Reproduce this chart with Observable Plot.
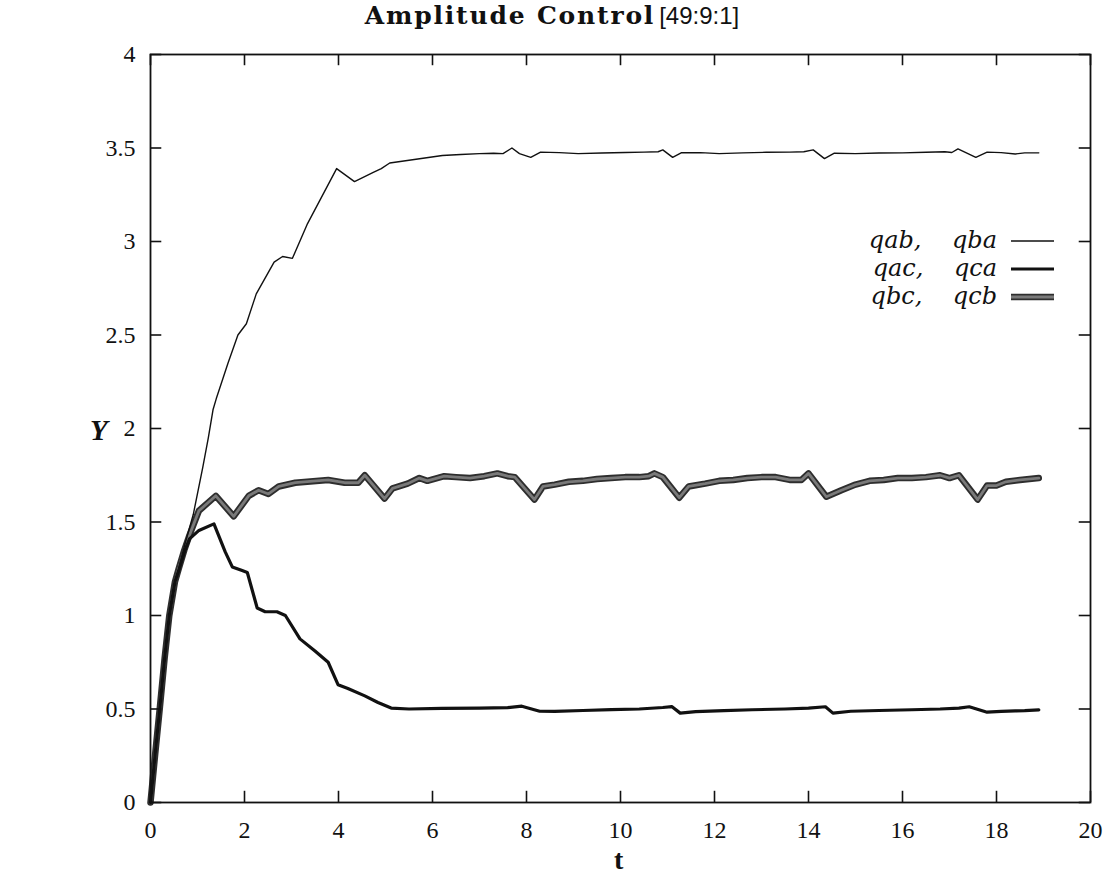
<!DOCTYPE html>
<html>
<head>
<meta charset="utf-8">
<script src="https://cdn.jsdelivr.net/npm/d3@7"></script>
<script src="https://cdn.jsdelivr.net/npm/@observablehq/plot@0.6"></script>
<style>
  body { margin: 0; background: #fff; }
  #wrap { position: relative; width: 1112px; height: 874px; overflow: hidden; background: #fff; }
  #chart { position: absolute; left: 0; top: 0; }
  #title { position: absolute; top: 1px; left: 552px; transform: translateX(-50%); white-space: nowrap; color: #111; }
  #title .b { font-family: "DejaVu Serif", serif; font-weight: bold; font-size: 25px; letter-spacing: 1.8px; }
  #title .s { font-family: "Liberation Sans", sans-serif; font-size: 24px; }
  .lab { position: absolute; color: #111; font-family: "Liberation Serif", serif; font-weight: bold; line-height: 1; }
  #ylab { left: 90px; top: 416px; font-size: 29px; font-style: italic; }
  #tlab { left: 614px; top: 846px; font-size: 28px; }
  #legend { position: absolute; left: 0; top: 0; }
</style>
</head>
<body>
<div id="wrap">
  <div id="chart"></div>
  <div id="title"><span class="b">Amplitude Control</span> <span class="s">[49:9:1]</span></div>
  <div class="lab" id="ylab">Y</div>
  <div class="lab" id="tlab">t</div>
  <svg id="legend" width="1112" height="874"></svg>
</div>
<script>
// ---- data ----
const xTicks = [0, 2, 4, 6, 8, 10, 12, 14, 16, 18, 20];
const yTicks = [0, 0.5, 1, 1.5, 2, 2.5, 3, 3.5, 4];
const seriesLabels = ["qab,    qba", "qac,    qca", "qbc,    qcb"];

// [t, value]
const qab = [
  [0,0],[0.1,0.26],[0.2,0.51],[0.3,0.77],[0.4,1.0],[0.52,1.18],[0.6,1.25],[0.72,1.37],
  [0.91,1.54],[1.11,1.79],[1.23,1.95],[1.33,2.1],[1.4,2.16],[1.65,2.35],[1.86,2.5],
  [2.04,2.56],[2.25,2.72],[2.63,2.89],[2.81,2.92],[3.02,2.91],[3.33,3.09],[3.96,3.39],
  [4.34,3.32],[4.74,3.37],[4.91,3.39],[5.09,3.42],[5.65,3.44],[6.21,3.46],
  [6.6,3.465],[7.0,3.47],[7.3,3.472],[7.5,3.47],[7.69,3.5],[7.85,3.47],[8.09,3.45],
  [8.3,3.478],[8.7,3.475],[9.1,3.47],[9.6,3.473],[10.1,3.476],[10.5,3.478],[10.8,3.48],
  [10.9,3.49],[11.11,3.45],[11.3,3.475],[11.7,3.475],[12.1,3.47],[12.6,3.474],[13.1,3.477],
  [13.6,3.478],[13.9,3.48],[14.1,3.49],[14.34,3.443],[14.55,3.472],[15.0,3.47],[15.5,3.473],
  [16.0,3.474],[16.5,3.477],[16.9,3.48],[17.05,3.476],[17.18,3.495],[17.56,3.45],[17.8,3.478],
  [18.1,3.475],[18.4,3.468],[18.6,3.474],[18.9,3.474]
];
const qac = [
  [0,0],[0.1,0.26],[0.2,0.51],[0.3,0.77],[0.4,1.0],[0.52,1.18],[0.6,1.24],[0.72,1.34],[0.83,1.41],
  [1.03,1.455],[1.35,1.49],[1.59,1.34],[1.74,1.26],[1.95,1.24],[2.06,1.23],[2.27,1.04],
  [2.44,1.02],[2.69,1.02],[2.87,1.0],[3.18,0.875],[3.5,0.81],[3.78,0.75],[3.99,0.63],
  [4.2,0.61],[4.56,0.57],[4.84,0.535],[5.12,0.505],[5.5,0.5],[6.2,0.503],[7.0,0.505],
  [7.6,0.507],[7.9,0.515],[8.28,0.488],[8.6,0.487],[9.2,0.492],[9.8,0.497],[10.4,0.5],
  [10.9,0.508],[11.09,0.513],[11.27,0.478],[11.6,0.486],[12.2,0.491],[12.8,0.496],[13.5,0.5],
  [14.0,0.505],[14.36,0.512],[14.52,0.478],[14.9,0.488],[15.5,0.492],[16.2,0.496],[16.8,0.5],
  [17.2,0.505],[17.42,0.512],[17.8,0.483],[18.1,0.487],[18.4,0.49],[18.6,0.491],[18.9,0.495]
];
const qbc = [
  [0,0],[0.1,0.26],[0.2,0.51],[0.3,0.77],[0.4,1.0],[0.52,1.18],[0.6,1.25],[0.72,1.35],[0.83,1.43],
  [1.03,1.56],[1.39,1.64],[1.77,1.53],[2.09,1.64],[2.3,1.67],[2.51,1.65],[2.73,1.69],
  [3.08,1.71],[3.78,1.725],[4.13,1.71],[4.42,1.71],[4.56,1.75],[4.98,1.625],[5.15,1.68],
  [5.47,1.705],[5.72,1.735],[5.89,1.72],[6.25,1.745],[6.5,1.74],[6.8,1.735],[7.1,1.745],
  [7.38,1.76],[7.6,1.745],[7.75,1.74],[8.17,1.62],[8.35,1.69],[8.6,1.7],[8.9,1.715],
  [9.2,1.72],[9.5,1.73],[9.8,1.735],[10.1,1.74],[10.4,1.74],[10.6,1.745],[10.72,1.76],
  [10.9,1.74],[11.25,1.63],[11.45,1.69],[11.8,1.705],[12.1,1.72],[12.4,1.725],[12.7,1.735],
  [13.0,1.74],[13.3,1.74],[13.6,1.725],[13.85,1.725],[14.0,1.76],[14.38,1.635],[14.7,1.67],
  [15.0,1.7],[15.3,1.72],[15.6,1.725],[15.9,1.735],[16.2,1.735],[16.5,1.74],[16.8,1.75],
  [17.0,1.735],[17.2,1.75],[17.6,1.62],[17.8,1.695],[18.0,1.695],[18.2,1.715],[18.5,1.725],
  [18.9,1.735]
];

// ---- chart ----
const X = d => d[0], Y = d => d[1];
const tickLenX = 0.24, tickLenY = 0.06;
const ink = "#111";
const thickOuter = "#2e2e2e", thickInner = "#7a7a7a";

const chart = Plot.plot({
  width: 1112,
  height: 874,
  marginLeft: 150,
  marginRight: 22,
  marginTop: 54,
  marginBottom: 72,
  x: { domain: [0, 20] },
  y: { domain: [0, 4] },
  style: { fontFamily: "'Liberation Serif', serif", fontSize: "24px", color: ink, background: "transparent" },
  marks: [
    Plot.line(qbc, { x: X, y: Y, stroke: thickOuter, strokeWidth: 6.5, strokeLinejoin: "round" }),
    Plot.line(qbc, { x: X, y: Y, stroke: thickInner, strokeWidth: 2.8, strokeLinejoin: "round" }),
    Plot.line(qac, { x: X, y: Y, stroke: ink, strokeWidth: 3.2, strokeLinejoin: "round" }),
    Plot.line(qab, { x: X, y: Y, stroke: ink, strokeWidth: 1.4, strokeLinejoin: "round" }),
    Plot.ruleY(yTicks, { y: d => d, x1: 0, x2: tickLenX, stroke: ink, strokeWidth: 1.6 }),
    Plot.ruleY(yTicks, { y: d => d, x1: 20 - tickLenX, x2: 20, stroke: ink, strokeWidth: 1.6 }),
    Plot.ruleX(xTicks, { x: d => d, y1: 0, y2: tickLenY, stroke: ink, strokeWidth: 1.6 }),
    Plot.ruleX(xTicks, { x: d => d, y1: 4 - tickLenY, y2: 4, stroke: ink, strokeWidth: 1.6 }),
    Plot.frame({ stroke: ink, strokeWidth: 1.8 }),
    Plot.axisX({ ticks: xTicks, tickSize: 0, tickPadding: 18, tickFormat: d => String(d), label: null }),
    Plot.axisY({ ticks: yTicks, tickSize: 0, tickPadding: 15, tickFormat: d => String(d), label: null })
  ]
});
document.getElementById("chart").appendChild(chart);

// ---- legend (gnuplot-style key, upper right) ----
const leg = d3.select("#legend");
const legStyles = [
  [{ stroke: ink, w: 1.4 }],
  [{ stroke: ink, w: 3.2 }],
  [{ stroke: thickOuter, w: 6.5 }, { stroke: thickInner, w: 2.8 }]
];
const rowY = [241, 269, 297];
const textRight = 997, lineX1 = 1011, lineX2 = 1054;
seriesLabels.forEach((lab, i) => {
  const g = leg.append("g");
  g.append("text")
    .attr("x", textRight).attr("y", rowY[i]).attr("dy", "0.3em")
    .attr("text-anchor", "end")
    .attr("font-family", "'DejaVu Serif', serif").attr("font-style", "italic")
    .attr("font-size", 24).attr("fill", ink)
    .style("white-space", "pre")
    .text(lab);
  legStyles[i].forEach(s => {
    g.append("line").attr("x1", lineX1).attr("x2", lineX2)
      .attr("y1", rowY[i]).attr("y2", rowY[i])
      .attr("stroke", s.stroke).attr("stroke-width", s.w);
  });
});
</script>
</body>
</html>
